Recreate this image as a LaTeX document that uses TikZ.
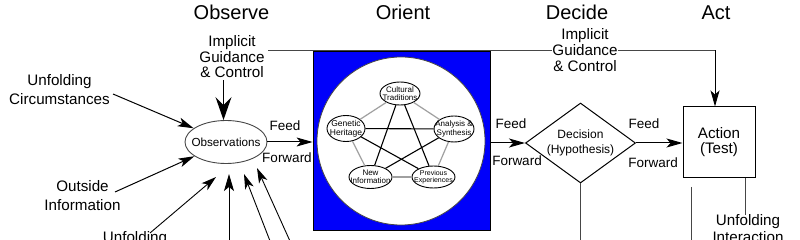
\documentclass[tikz,border=0pt]{standalone}
\usepackage{fontspec}
\setmainfont{Liberation Sans}
\usetikzlibrary{arrows.meta,shapes.geometric}
\definecolor{lnc}{RGB}{70,70,70}
\definecolor{pgc}{RGB}{160,160,160}
\definecolor{oblue}{RGB}{0,0,250}
\tikzset{
  ttl/.style={font=\fontsize{20}{20}\selectfont, anchor=base, inner sep=0pt},
  lbl/.style={font=\fontsize{15.2}{18.5}\selectfont, align=center, inner sep=0pt},
  ff/.style={font=\fontsize{13.5}{14}\selectfont, anchor=base, inner sep=0pt},
  arr/.style={-{Stealth[length=16pt,width=9pt,inset=4pt]}, line width=1pt, draw=black},
  bigarr/.style={-{Stealth[length=23pt,width=16pt,inset=8pt]}, line width=1.2pt, draw=black},
  pe/.style={ellipse, draw=black, fill=white, line width=0.9pt, inner sep=0pt},
  pl/.style={font=\fontsize{8}{8.5}\selectfont, align=center, inner sep=0pt},
  pentedge/.style={draw=pgc, line width=1.2pt},
  staredge/.style={draw=black, line width=1.1pt},
  thinline/.style={draw=lnc, line width=1pt}
}
\begin{document}
\begin{tikzpicture}[x=1pt,y=-1pt]
\useasboundingbox (0,0) rectangle (800,240);

% titles
\node[ttl] (tObs) at (231.5,20) {Observe};
\node[ttl] (tOri) at (403,20) {Orient};
\node[ttl] (tDec) at (577,20) {Decide};
\node[ttl] (tAct) at (716,20) {Act};

% labels
\node[lbl, font=\fontsize{15.2}{15.5}\selectfont] (igc1) at (232,57) {Implicit\\Guidance\\\& Control};
\node[lbl] (uc) at (59.5,89.7) {Unfolding\\Circumstances};
\node[lbl, font=\fontsize{15.2}{19}\selectfont] (oi) at (82.5,196) {Outside\\Information};
\node[lbl, anchor=base] (ub) at (135,242) {Unfolding};
\node[lbl, font=\fontsize{15.2}{17}\selectfont] (ui) at (748,229) {Unfolding\\Interaction};

% top guidance line
\coordinate (tl) at (268,50.5);
\coordinate (tr) at (715,50.5);
\node[draw=black, line width=1pt, minimum width=72pt, minimum height=71pt, inner sep=0pt,
      font=\fontsize{15.2}{15}\selectfont, align=center] (act) at (719,142.5) {Action\\(Test)};
\draw[thinline] (tl) -- (tr);
\draw[arr] (tr) -- (tr |- act.north);

% orient block
\node[draw=black, line width=0.8pt, fill=oblue, minimum width=177pt, minimum height=179pt, inner sep=0pt] (blue) at (401.5,140.5) {};
\node[circle, draw=lnc, line width=0.8pt, fill=white, minimum size=168pt, inner sep=0pt] (circ) at (401,141) {};

\node[pe, minimum width=40pt, minimum height=23pt, label={[pl]center:{Cultural\\Traditions}}] (ct) at (400,93.5) {};
\node[pe, minimum width=38pt, minimum height=26pt, label={[pl, font=\fontsize{8.5}{9}\selectfont]center:{Genetic\\Heritage}}] (gh) at (346,128.5) {};
\node[pe, minimum width=40pt, minimum height=26pt, label={[pl]center:{Analysis \&\\Synthesis}}] (as) at (454,129) {};
\node[pe, minimum width=43pt, minimum height=23pt, label={[pl]center:{New\\Information}}] (ni) at (370.5,177) {};
\node[pe, minimum width=43pt, minimum height=22pt, label={[pl, font=\fontsize{7}{7.5}\selectfont]center:{Previous\\Experiences}}] (px) at (433.5,177) {};

\draw[pentedge] (ct) -- (gh);
\draw[pentedge] (ct) -- (as);
\draw[pentedge] (gh) -- (ni);
\draw[pentedge] (as) -- (px);
\draw[pentedge] (ni) -- (px);
\draw[staredge] (ct) -- (ni);
\draw[staredge] (ct) -- (px);
\draw[staredge] (gh) -- (as);
\draw[staredge] (gh) -- (px);
\draw[staredge] (as) -- (ni);

% observations
\node[ellipse, draw=lnc, line width=0.9pt, minimum width=82pt, minimum height=43pt, inner sep=0pt,
      label={[inner sep=0pt, font=\fontsize{11.7}{12}\selectfont]center:Observations}] (obs) at (226,142) {};

% decision
\node[diamond, draw=black, line width=1pt, minimum width=110pt, minimum height=80pt, inner sep=0pt,
      label={[inner sep=0pt, align=center, font=\fontsize{12}{14.5}\selectfont]center:{Decision\\(Hypothesis)}}] (dec) at (580.5,143) {};

% second guidance label (over the line)
\node[lbl, fill=white, inner sep=0.5pt, font=\fontsize{15.2}{15.75}\selectfont] (igc2) at (585,50.3) {Implicit\\Guidance\\\& Control};

% input arrows
\coordinate (ucS) at (113,94);
\coordinate (oiS) at (115,192);
\draw[arr] (ucS) -- (obs);
\draw[arr] (oiS) -- (obs);
\coordinate (ia) at (223.5,80.5);
\draw[bigarr] (ia) -- (ia |- obs.north);

\coordinate (b1s) at (150,233);
\coordinate (b1t) at (216,177);
\coordinate (b2s) at (229,250);
\coordinate (b2t) at (229,174);
\coordinate (b3s) at (273.5,250);
\coordinate (b3t) at (244,174);
\coordinate (b4s) at (294,250);
\coordinate (b4t) at (257,168);
\draw[arr, line width=0.9pt, -{Stealth[length=15pt,width=9pt,inset=4pt]}] (b1s) -- (b1t);
\draw[arr, line width=0.9pt, -{Stealth[length=17pt,width=10pt,inset=4pt]}] (b2s) -- (b2t);
\draw[arr, line width=0.9pt, -{Stealth[length=15pt,width=9pt,inset=4pt]}] (b3s) -- (b3t);
\draw[arr, line width=0.9pt, -{Stealth[length=15pt,width=9pt,inset=4pt]}] (b4s) -- (b4t);

% feed forward arrows
\draw[arr] (obs.east) -- (obs.east -| blue.west);
\draw[arr] (blue.east |- dec.west) -- (dec.west);
\draw[arr] (dec.east) -- (dec.east -| act.west);
\node[ff] (f1) at (285,131) {Feed};
\node[ff] (fw1) at (287,163) {Forward};
\node[ff] (f2) at (511,129) {Feed};
\node[ff] (fw2) at (517,166) {Forward};
\node[ff] (f3) at (644,129) {Feed};
\node[ff] (fw3) at (653,168) {Forward};

% lines leaving bottom
\coordinate (db) at (580.5,250);
\draw[thinline] (dec.south) -- (db);
\coordinate (vt) at (691,187);
\coordinate (vb) at (691,250);
\draw[thinline] (vt) -- (vb);
\coordinate (ab) at (745,178);
\draw[thinline] (ab) -- (ab |- ui.north);
\end{tikzpicture}
\end{document}
